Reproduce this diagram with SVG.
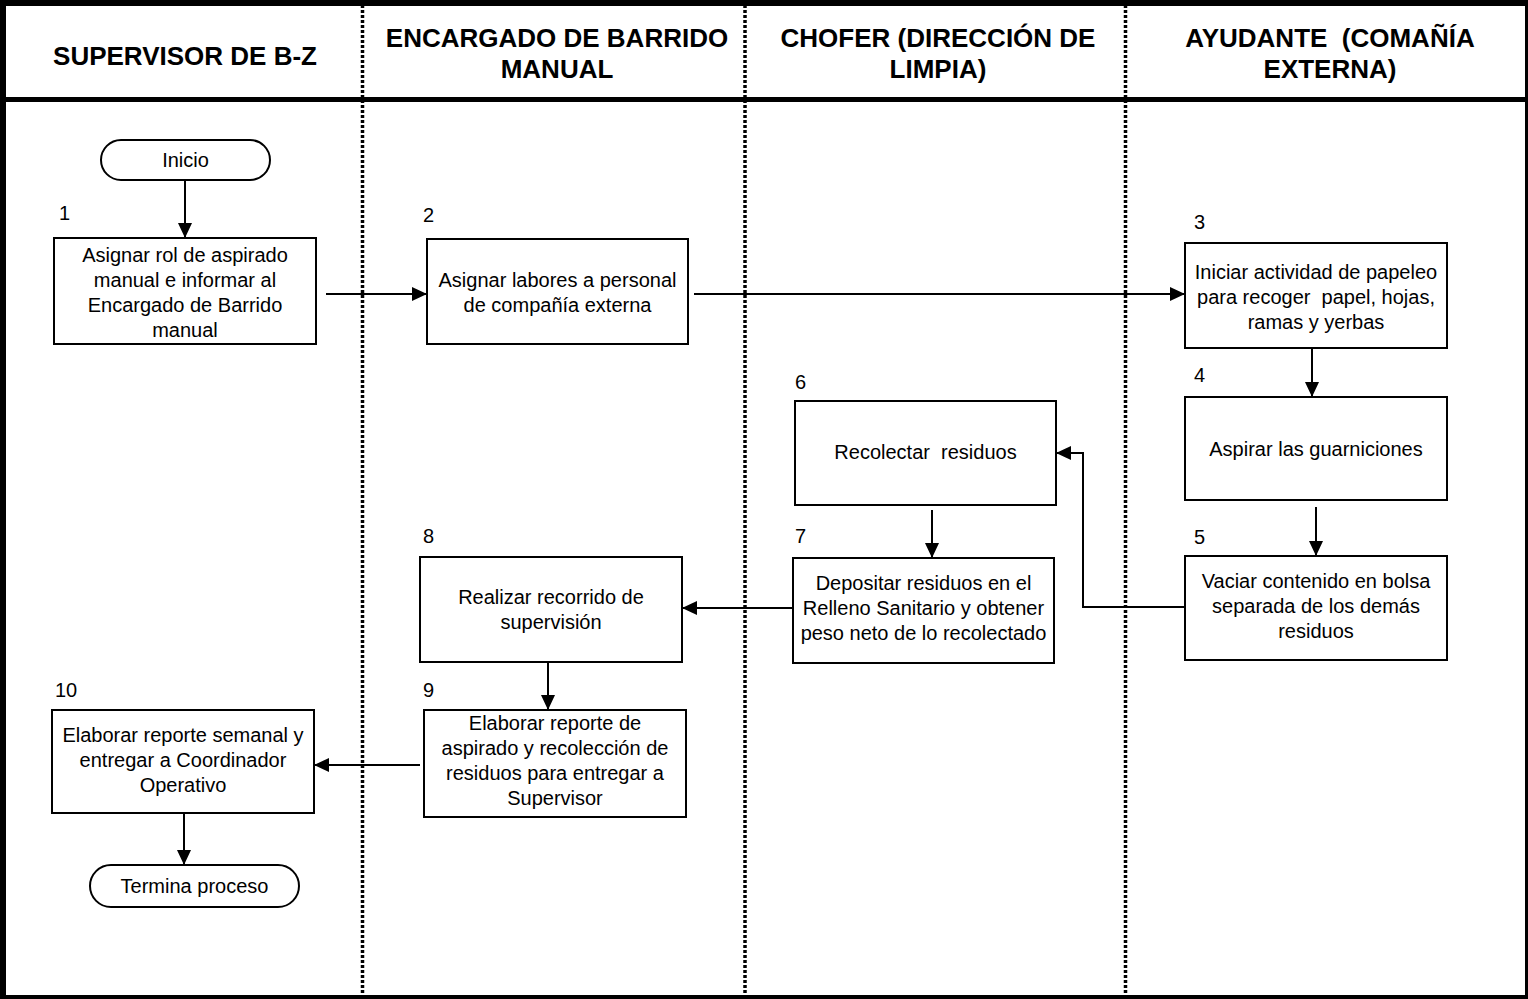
<svg xmlns="http://www.w3.org/2000/svg" width="1528" height="999" viewBox="0 0 1528 999">
<style>
.hd{font-family:"Liberation Sans",Arial,sans-serif;font-size:26px;font-weight:bold;fill:#000;text-anchor:middle;white-space:pre}
.tx{font-family:"Liberation Sans",Arial,sans-serif;font-size:20px;fill:#000;text-anchor:middle;white-space:pre}
.num{font-family:"Liberation Sans",Arial,sans-serif;font-size:20px;fill:#000;text-anchor:start}
.box{fill:#fff;stroke:#000;stroke-width:2}
.lane{stroke:#000;stroke-width:3.5;stroke-dasharray:3 2;fill:none}
.cn{stroke:#000;stroke-width:2;fill:none;marker-end:url(#ah)}
</style>
<defs>
<marker id="ah" markerUnits="userSpaceOnUse" markerWidth="16" markerHeight="14" refX="15" refY="7" orient="auto">
<path d="M0,0 L15,7 L0,14 z" fill="#000"/>
</marker>
</defs>
<rect x="0" y="0" width="1528" height="999" fill="#fff"/>
<g id="frame">
<line class="lane" x1="362.5" y1="0" x2="362.5" y2="999"/>
<line class="lane" x1="745" y1="0" x2="745" y2="999"/>
<line class="lane" x1="1125.5" y1="0" x2="1125.5" y2="999"/>
<rect x="0" y="0" width="1528" height="6" fill="#000"/>
<rect x="0" y="0" width="6" height="999" fill="#000"/>
<rect x="1525" y="0" width="3" height="999" fill="#000"/>
<rect x="0" y="995" width="1528" height="4" fill="#000"/>
<rect x="0" y="97" width="1528" height="5" fill="#000"/>
</g>
<g id="headers">
<text class="hd" x="185" y="65">SUPERVISOR DE B-Z</text>
<text class="hd" x="557" y="47">ENCARGADO DE BARRIDO</text>
<text class="hd" x="557" y="78">MANUAL</text>
<text class="hd" x="938" y="47">CHOFER (DIRECCIÓN DE</text>
<text class="hd" x="938" y="78">LIMPIA)</text>
<text class="hd" x="1330" y="47">AYUDANTE  (COMAÑÍA</text>
<text class="hd" x="1330" y="78">EXTERNA)</text>
</g>
<g id="connectors">
<line class="cn" x1="185" y1="180" x2="185" y2="238"/>
<line class="cn" x1="326" y1="294" x2="427" y2="294"/>
<line class="cn" x1="694" y1="294" x2="1185" y2="294"/>
<line class="cn" x1="1312" y1="348" x2="1312" y2="397"/>
<line class="cn" x1="1316" y1="507" x2="1316" y2="556"/>
<path class="cn" d="M1185,607 H1083 V453 H1056"/>
<line class="cn" x1="932" y1="510" x2="932" y2="558"/>
<line class="cn" x1="793" y1="608" x2="682" y2="608"/>
<line class="cn" x1="548" y1="662" x2="548" y2="710"/>
<line class="cn" x1="420" y1="765" x2="314" y2="765"/>
<line class="cn" x1="184" y1="813" x2="184" y2="865"/>
</g>
<g id="inicio">
<rect class="box" x="101" y="140" width="169" height="40" rx="20" ry="20"/>
<text class="tx" x="185.5" y="167">Inicio</text>
</g>
<g id="n1">
<text class="num" x="59" y="220">1</text>
<rect class="box" x="54" y="238" width="262" height="106"/>
<text class="tx" x="185" y="262">Asignar rol de aspirado</text>
<text class="tx" x="185" y="287">manual e informar al</text>
<text class="tx" x="185" y="312">Encargado de Barrido</text>
<text class="tx" x="185" y="337">manual</text>
</g>
<g id="n2">
<text class="num" x="423" y="222">2</text>
<rect class="box" x="427" y="239" width="261" height="105"/>
<text class="tx" x="557.5" y="287">Asignar labores a personal</text>
<text class="tx" x="557.5" y="312">de compañía externa</text>
</g>
<g id="n3">
<text class="num" x="1194" y="229">3</text>
<rect class="box" x="1185" y="243" width="262" height="105"/>
<text class="tx" x="1316" y="279">Iniciar actividad de papeleo</text>
<text class="tx" x="1316" y="304">para recoger  papel, hojas,</text>
<text class="tx" x="1316" y="329">ramas y yerbas</text>
</g>
<g id="n4">
<text class="num" x="1194" y="382">4</text>
<rect class="box" x="1185" y="397" width="262" height="103"/>
<text class="tx" x="1316" y="456">Aspirar las guarniciones</text>
</g>
<g id="n5">
<text class="num" x="1194" y="544">5</text>
<rect class="box" x="1185" y="556" width="262" height="104"/>
<text class="tx" x="1316" y="588">Vaciar contenido en bolsa</text>
<text class="tx" x="1316" y="613">separada de los demás</text>
<text class="tx" x="1316" y="638">residuos</text>
</g>
<g id="n6">
<text class="num" x="795" y="389">6</text>
<rect class="box" x="795" y="401" width="261" height="104"/>
<text class="tx" x="925.5" y="459">Recolectar  residuos</text>
</g>
<g id="n7">
<text class="num" x="795" y="543">7</text>
<rect class="box" x="793" y="558" width="261" height="105"/>
<text class="tx" x="923.5" y="590">Depositar residuos en el</text>
<text class="tx" x="923.5" y="615">Relleno Sanitario y obtener</text>
<text class="tx" x="923.5" y="640">peso neto de lo recolectado</text>
</g>
<g id="n8">
<text class="num" x="423" y="543">8</text>
<rect class="box" x="420" y="557" width="262" height="105"/>
<text class="tx" x="551" y="604">Realizar recorrido de</text>
<text class="tx" x="551" y="629">supervisión</text>
</g>
<g id="n9">
<text class="num" x="423" y="697">9</text>
<rect class="box" x="424" y="710" width="262" height="107"/>
<text class="tx" x="555" y="730">Elaborar reporte de</text>
<text class="tx" x="555" y="755">aspirado y recolección de</text>
<text class="tx" x="555" y="780">residuos para entregar a</text>
<text class="tx" x="555" y="805">Supervisor</text>
</g>
<g id="n10">
<text class="num" x="55" y="697">10</text>
<rect class="box" x="52" y="710" width="262" height="103"/>
<text class="tx" x="183" y="742">Elaborar reporte semanal y</text>
<text class="tx" x="183" y="767">entregar a Coordinador</text>
<text class="tx" x="183" y="792">Operativo</text>
</g>
<g id="fin">
<rect class="box" x="90" y="865" width="209" height="42" rx="21" ry="21"/>
<text class="tx" x="194.5" y="893">Termina proceso</text>
</g>
</svg>
